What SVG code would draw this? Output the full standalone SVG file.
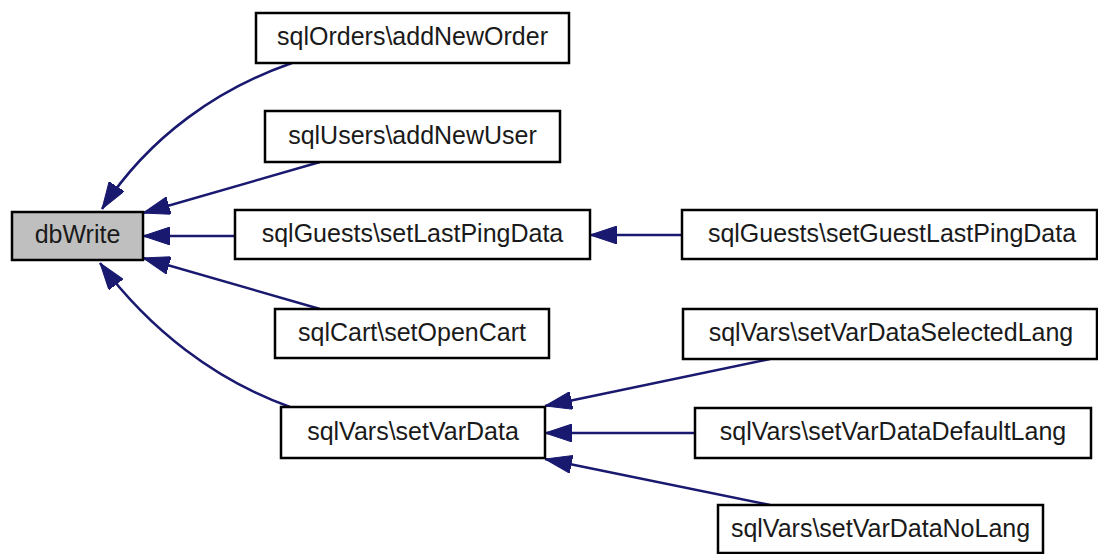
<svg xmlns="http://www.w3.org/2000/svg" width="1098" height="554" viewBox="0 0 1098 554">
<style>
.box{fill:#ffffff;stroke:#000000;stroke-width:2.5}
.root{fill:#bfbfbf;stroke:#000000;stroke-width:2.5}
.lbl{font-family:"Liberation Sans",Arial,sans-serif;font-size:25px;fill:#1a1a1a;text-anchor:middle}
.edge{fill:none;stroke:#191970;stroke-width:2.5;marker-end:url(#ah)}
</style>
<defs>
<marker id="ah" viewBox="0 0 27 18" refX="27" refY="9" markerWidth="27" markerHeight="18" markerUnits="userSpaceOnUse" orient="auto">
<path d="M0,0 L27,9 L0,18 z" fill="#191970" stroke="#191970" stroke-width="1"/>
</marker>
</defs>
<rect width="1098" height="554" fill="#ffffff"/>
<g id="connectors">
<path class="edge" d="M292,63 C220,88 150,135 102,209"/>
<path class="edge" d="M320,162 L143,213"/>
<path class="edge" d="M235,236 L143,236"/>
<path class="edge" d="M320,309 L143,258"/>
<path class="edge" d="M290,407 C215,380 150,330 100,263"/>
<path class="edge" d="M682,235 L590,235"/>
<path class="edge" d="M770,359 L545,406"/>
<path class="edge" d="M695,433 L545,433"/>
<path class="edge" d="M770,505 L545,459"/>
</g>
<g id="n_dbWrite"><rect class="root" x="12" y="212" width="131" height="48"/><text class="lbl" x="77.5" y="243">dbWrite</text></g>
<g id="n_addNewOrder"><rect class="box" x="256" y="13" width="313" height="50"/><text class="lbl" x="412.5" y="45">sqlOrders\addNewOrder</text></g>
<g id="n_addNewUser"><rect class="box" x="265" y="111" width="295" height="51"/><text class="lbl" x="412.5" y="144">sqlUsers\addNewUser</text></g>
<g id="n_setLastPingData"><rect class="box" x="235" y="210" width="355" height="49"/><text class="lbl" x="412.5" y="242">sqlGuests\setLastPingData</text></g>
<g id="n_setGuestLastPingData"><rect class="box" x="682" y="210" width="415" height="49"/><text class="lbl" x="892" y="242">sqlGuests\setGuestLastPingData</text></g>
<g id="n_setOpenCart"><rect class="box" x="275" y="309" width="274" height="49"/><text class="lbl" x="412" y="341">sqlCart\setOpenCart</text></g>
<g id="n_setVarData"><rect class="box" x="281" y="407" width="264" height="51"/><text class="lbl" x="413" y="440">sqlVars\setVarData</text></g>
<g id="n_setVarDataSelectedLang"><rect class="box" x="683" y="309" width="414" height="50"/><text class="lbl" x="891" y="341">sqlVars\setVarDataSelectedLang</text></g>
<g id="n_setVarDataDefaultLang"><rect class="box" x="695" y="408" width="396" height="50"/><text class="lbl" x="893" y="440">sqlVars\setVarDataDefaultLang</text></g>
<g id="n_setVarDataNoLang"><rect class="box" x="718" y="505" width="325" height="48"/><text class="lbl" x="880.5" y="537">sqlVars\setVarDataNoLang</text></g>
</svg>
